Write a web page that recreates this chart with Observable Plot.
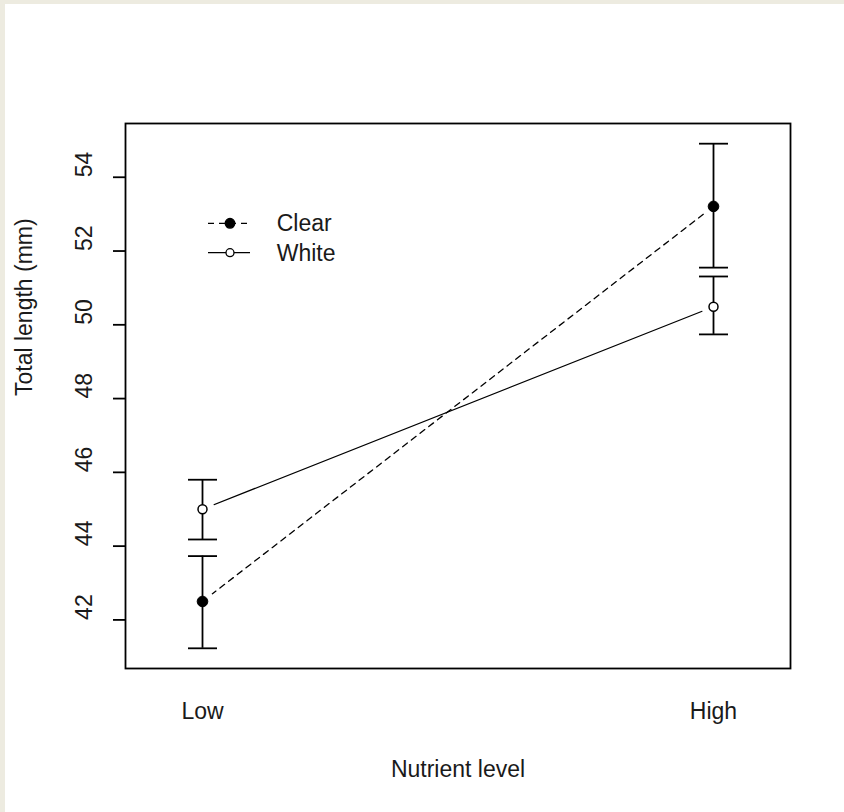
<!DOCTYPE html>
<html><head><meta charset="utf-8">
<script src="https://cdn.jsdelivr.net/npm/d3@7"></script>
<script src="https://cdn.jsdelivr.net/npm/@observablehq/plot@0.6"></script>
<style>
html,body{margin:0;padding:0;background:#EDEBE0;width:844px;height:812px;overflow:hidden}
#chart{position:absolute;left:5px;top:4px;width:839px;height:808px;background:#fff}
#chart svg{display:block}
</style></head><body><div id="chart"></div>
<script>
// ---- data ----
const levels = ["Low", "High"];
const seriesNames = ["Clear", "White"];
const clearMean = [42.50, 53.21];
const clearLo   = [41.23, 51.55];
const clearHi   = [43.73, 54.91];
const whiteMean = [45.00, 50.49];
const whiteLo   = [44.18, 49.74];
const whiteHi   = [45.80, 51.31];
const yTicks = [42, 44, 46, 48, 50, 52, 54];
const xTitle = "Nutrient level";
const yTitle = "Total length (mm)";

// ---- build table ----
const means = {Clear: clearMean, White: whiteMean};
const los = {Clear: clearLo, White: whiteLo};
const his = {Clear: clearHi, White: whiteHi};
const rows = [];
seriesNames.forEach(s => levels.forEach((l, j) => rows.push({series: s, level: l, mean: means[s][j], lo: los[s][j], hi: his[s][j]})));

const yMin = d3.min(rows, d => d.lo), yMax = d3.max(rows, d => d.hi);
const ext = (yMax - yMin) * 0.04;

const FONT = "'Liberation Sans', Arial, sans-serif";
const FS = 23;
const INK = "#1a1a1a";
const capHalf = 14.5;
const capSymbol = {draw(ctx) { ctx.moveTo(-capHalf, 0); ctx.lineTo(capHalf, 0); }};

function legendMark(index, scales, values, dims) {
  const g = d3.create("svg:g").attr("font-family", FONT).attr("font-size", FS).attr("fill", INK)
    .attr("text-anchor", "start");
  const x0 = dims.marginLeft, y0 = dims.marginTop;
  seriesNames.forEach((s, i) => {
    const y = y0 + 100.3 + i * 29.4;
    g.append("line").attr("x1", x0 + 83).attr("x2", x0 + 125).attr("y1", y).attr("y2", y)
      .attr("stroke", "black").attr("stroke-width", 1.3)
      .attr("stroke-dasharray", s === "Clear" ? "6,5" : null);
    g.append("circle").attr("cx", x0 + 105).attr("cy", y).attr("r", s === "Clear" ? 4.8 : 4)
      .attr("fill", s === "Clear" ? "black" : "white").attr("stroke", "black").attr("stroke-width", 1.3);
    g.append("text").attr("x", x0 + 151.7).attr("y", y).attr("dy", "0.35em").attr("text-anchor", "start").text(s);
  });
  return g.node();
}

const chart = Plot.plot({
  width: 839,
  height: 808,
  marginLeft: 120,
  marginRight: 54,
  marginTop: 119,
  marginBottom: 144,
  style: {background: "white", fontFamily: FONT, color: INK, overflow: "visible"},
  x: {type: "point", domain: levels, padding: 0.15, axis: null},
  y: {domain: [yMin - ext, yMax + ext]},
  marks: [
    Plot.frame({stroke: "black", strokeWidth: 1.8}),
    Plot.axisY({ticks: yTicks, tickSize: 12, tickFormat: () => "", label: null, strokeWidth: 1.8, stroke: "black"}),
    Plot.text(yTicks, {y: d => d, text: d => String(d), frameAnchor: "left", dx: -41, rotate: -90, fontSize: FS, fill: INK}),
    Plot.text(levels, {x: d => d, text: d => d, frameAnchor: "bottom", dy: 50, fontSize: FS, fill: INK}),
    Plot.text([xTitle], {frameAnchor: "bottom", dy: 108, fontSize: FS, fill: INK}),
    Plot.text([yTitle], {frameAnchor: "left", dx: -101, rotate: -90, fontSize: FS, fill: INK}),
    Plot.line(rows.filter(d => d.series === "Clear"), {x: "level", y: "mean", stroke: "black", strokeWidth: 1.3, strokeDasharray: "6,5"}),
    Plot.line(rows.filter(d => d.series === "White"), {x: "level", y: "mean", stroke: "black", strokeWidth: 1.3}),
    Plot.dot(rows, {x: "level", y: "mean", r: 12, fill: "white", stroke: null}),
    Plot.ruleX(rows, {x: "level", y1: "lo", y2: "hi", stroke: "black", strokeWidth: 1.8}),
    Plot.dot(rows, {x: "level", y: "lo", symbol: capSymbol, stroke: "black", strokeWidth: 1.8, fill: "none"}),
    Plot.dot(rows, {x: "level", y: "hi", symbol: capSymbol, stroke: "black", strokeWidth: 1.8, fill: "none"}),
    Plot.dot(rows.filter(d => d.series === "Clear"), {x: "level", y: "mean", r: 5.3, fill: "black", stroke: "black", strokeWidth: 1}),
    Plot.dot(rows.filter(d => d.series === "White"), {x: "level", y: "mean", r: 4.5, fill: "white", stroke: "black", strokeWidth: 1.5}),
    legendMark
  ]
});
document.getElementById("chart").appendChild(chart);
</script></body></html>
